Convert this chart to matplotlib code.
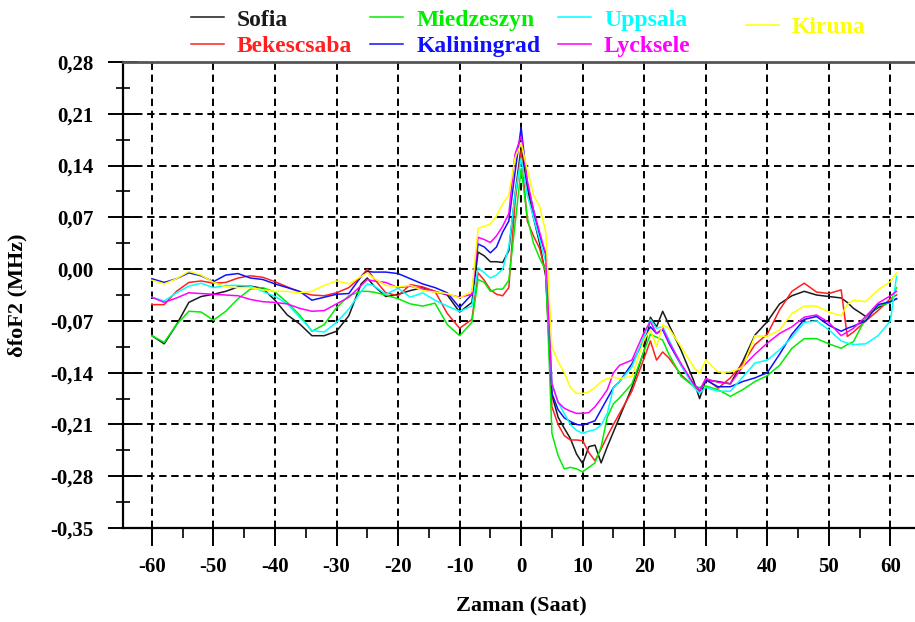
import matplotlib
matplotlib.use('Agg')
import matplotlib.pyplot as plt
from matplotlib.ticker import MultipleLocator, FuncFormatter

plt.rcParams['font.family'] = ['Liberation Serif', 'DejaVu Serif']
plt.rcParams['font.weight'] = 'bold'

# Hours relative to the event (Zaman, Saat)
hours = [-60, -58, -56, -54, -52, -50, -48, -46, -44, -42, -40, -38, -36, -34, -32, -30,
         -28, -26, -25, -24, -22, -20, -18, -16, -14, -12, -10, -8, -7, -6, -5, -4, -3, -2,
         -1, 0, 1, 2, 3, 4, 5, 6, 7, 8, 9, 10, 11, 12, 13, 14, 15, 16, 18, 20, 21, 22, 23,
         24, 26, 28, 29, 30, 32, 34, 36, 38, 40, 42, 44, 46, 48, 50, 52, 53, 54, 56, 58, 60, 61]

# dfoF2 (MHz) per station
sofia = [-0.090, -0.101, -0.075, -0.045, -0.037, -0.034, -0.030, -0.024, -0.023, -0.026,
         -0.042, -0.062, -0.074, -0.090, -0.090, -0.084, -0.063, -0.020, -0.012, -0.022,
         -0.037, -0.034, -0.029, -0.025, -0.030, -0.035, -0.058, -0.045, 0.023, 0.018,
         0.010, 0.010, 0.009, 0.025, 0.100, 0.165, 0.110, 0.070, 0.035, -0.010, -0.170,
         -0.200, -0.215, -0.229, -0.250, -0.263, -0.240, -0.238, -0.262, -0.240, -0.220,
         -0.200, -0.160, -0.110, -0.065, -0.078, -0.057, -0.075, -0.110, -0.150, -0.175,
         -0.150, -0.152, -0.155, -0.125, -0.089, -0.071, -0.047, -0.036, -0.030, -0.035,
         -0.037, -0.039, -0.045, -0.053, -0.064, -0.052, -0.044, -0.040]
bekescsaba = [-0.048, -0.048, -0.030, -0.018, -0.016, -0.019, -0.018, -0.012, -0.009, -0.011,
              -0.017, -0.024, -0.031, -0.035, -0.036, -0.032, -0.025, -0.010, 0.000, -0.012,
              -0.032, -0.036, -0.021, -0.024, -0.030, -0.060, -0.080, -0.068, -0.005, -0.015,
              -0.028, -0.034, -0.036, -0.025, 0.090, 0.160, 0.065, 0.045, 0.028, -0.005,
              -0.186, -0.210, -0.225, -0.231, -0.231, -0.232, -0.248, -0.259, -0.243, -0.226,
              -0.210, -0.195, -0.165, -0.120, -0.097, -0.123, -0.112, -0.120, -0.143, -0.158,
              -0.166, -0.148, -0.161, -0.147, -0.128, -0.102, -0.088, -0.055, -0.030, -0.019,
              -0.031, -0.033, -0.028, -0.091, -0.085, -0.070, -0.056, -0.040, -0.035]
miedzeszyn = [-0.090, -0.099, -0.075, -0.057, -0.058, -0.069, -0.057, -0.040, -0.027, -0.025,
              -0.031, -0.045, -0.062, -0.084, -0.075, -0.052, -0.036, -0.030, -0.030, -0.031,
              -0.035, -0.040, -0.047, -0.050, -0.046, -0.075, -0.090, -0.072, -0.014, -0.018,
              -0.030, -0.027, -0.027, -0.015, 0.060, 0.136, 0.070, 0.035, 0.015, -0.002,
              -0.222, -0.252, -0.270, -0.268, -0.270, -0.274, -0.268, -0.262, -0.240, -0.200,
              -0.182, -0.174, -0.155, -0.110, -0.088, -0.092, -0.096, -0.115, -0.145, -0.158,
              -0.160, -0.158, -0.163, -0.172, -0.163, -0.152, -0.144, -0.130, -0.107, -0.094,
              -0.094, -0.101, -0.107, -0.102, -0.098, -0.066, -0.050, -0.045, -0.025]
kaliningrad = [-0.013, -0.018, -0.013, -0.005, -0.009, -0.017, -0.008, -0.006, -0.012, -0.014,
               -0.020, -0.025, -0.030, -0.042, -0.038, -0.034, -0.033, -0.010, -0.003, -0.004,
               -0.004, -0.006, -0.013, -0.020, -0.025, -0.032, -0.052, -0.034, 0.034, 0.030,
               0.022, 0.030, 0.050, 0.065, 0.130, 0.192, 0.115, 0.080, 0.045, 0.020, -0.168,
               -0.190, -0.201, -0.206, -0.210, -0.211, -0.208, -0.205, -0.190, -0.175, -0.160,
               -0.152, -0.128, -0.095, -0.078, -0.087, -0.082, -0.100, -0.130, -0.155, -0.164,
               -0.150, -0.159, -0.159, -0.152, -0.147, -0.140, -0.115, -0.088, -0.068, -0.064,
               -0.076, -0.084, -0.080, -0.077, -0.070, -0.048, -0.044, -0.040]
uppsala = [-0.038, -0.043, -0.032, -0.023, -0.019, -0.025, -0.022, -0.022, -0.023, -0.030,
           -0.037, -0.047, -0.065, -0.083, -0.085, -0.072, -0.054, -0.030, -0.020, -0.022,
           -0.034, -0.026, -0.038, -0.032, -0.042, -0.050, -0.057, -0.050, 0.002, -0.005,
           -0.012, -0.008, 0.000, 0.030, 0.100, 0.150, 0.100, 0.070, 0.040, 0.010, -0.155,
           -0.180, -0.195, -0.210, -0.218, -0.222, -0.219, -0.217, -0.211, -0.195, -0.160,
           -0.152, -0.132, -0.090, -0.068, -0.080, -0.078, -0.095, -0.130, -0.159, -0.168,
           -0.160, -0.165, -0.165, -0.146, -0.127, -0.123, -0.109, -0.092, -0.072, -0.070,
           -0.082, -0.097, -0.100, -0.102, -0.101, -0.090, -0.070, -0.010]
lycksele = [-0.038, -0.045, -0.039, -0.032, -0.033, -0.034, -0.035, -0.036, -0.041, -0.044,
            -0.045, -0.047, -0.053, -0.057, -0.056, -0.047, -0.038, -0.022, -0.014, -0.016,
            -0.018, -0.025, -0.023, -0.027, -0.031, -0.034, -0.038, -0.034, 0.043, 0.040,
            0.036, 0.045, 0.058, 0.075, 0.155, 0.180, 0.120, 0.080, 0.050, 0.020, -0.155,
            -0.180, -0.188, -0.192, -0.195, -0.195, -0.194, -0.186, -0.175, -0.163, -0.140,
            -0.130, -0.123, -0.085, -0.071, -0.087, -0.080, -0.098, -0.128, -0.155, -0.164,
            -0.148, -0.153, -0.155, -0.132, -0.115, -0.100, -0.087, -0.078, -0.065, -0.062,
            -0.072, -0.090, -0.085, -0.080, -0.064, -0.046, -0.036, -0.030]
kiruna = [-0.015, -0.020, -0.013, -0.003, -0.008, -0.018, -0.024, -0.025, -0.025, -0.028,
          -0.030, -0.030, -0.032, -0.030, -0.022, -0.016, -0.020, -0.010, -0.005, -0.012,
          -0.022, -0.024, -0.022, -0.029, -0.031, -0.033, -0.039, -0.030, 0.055, 0.058,
          0.061, 0.072, 0.088, 0.100, 0.150, 0.170, 0.135, 0.100, 0.085, 0.050, -0.105,
          -0.125, -0.140, -0.160, -0.168, -0.168, -0.166, -0.160, -0.152, -0.148, -0.146,
          -0.148, -0.145, -0.095, -0.082, -0.105, -0.075, -0.080, -0.105, -0.132, -0.141,
          -0.123, -0.139, -0.139, -0.133, -0.090, -0.091, -0.082, -0.060, -0.050, -0.050,
          -0.058, -0.063, -0.048, -0.042, -0.044, -0.028, -0.017, -0.005]

stations = ['Sofia', 'Bekescsaba', 'Miedzeszyn', 'Kaliningrad', 'Uppsala', 'Lycksele', 'Kiruna']
series = [sofia, bekescsaba, miedzeszyn, kaliningrad, uppsala, lycksele, kiruna]
colors = ['#1a1a1a', '#ff2020', '#00ee00', '#1010ff', '#00ffff', '#ff00ff', '#ffff00']

x_ticks = [-60, -50, -40, -30, -20, -10, 0, 10, 20, 30, 40, 50, 60]
y_ticks = [-0.35, -0.28, -0.21, -0.14, -0.07, 0.0, 0.07, 0.14, 0.21, 0.28]

fig = plt.figure(figsize=(9.15, 6.22), dpi=100)
ax = fig.add_axes([0.1344, 0.1511, 0.8656, 0.7492])

lines = []
for name, vals, c in zip(stations, series, colors):
    ln, = ax.plot(hours, vals, color=c, lw=1.1, label=name)
    lines.append(ln)

ax.set_xlim(-64.7, 64.0)
ax.set_ylim(-0.35, 0.28)
ax.set_xticks(x_ticks)
ax.set_yticks(y_ticks)
ax.xaxis.set_minor_locator(MultipleLocator(5))
ax.yaxis.set_minor_locator(MultipleLocator(0.035))
ax.yaxis.set_major_formatter(FuncFormatter(lambda v, p: f"{round(v, 2):.2f}".replace('.', ',').replace('-0,00', '0,00')))
ax.xaxis.set_major_formatter(FuncFormatter(lambda v, p: f"{int(round(v))}"))

ax.grid(True, which='major', color='black', linestyle=(0, (3.8, 2.4)), lw=1.4)
ax.set_axisbelow(True)

ax.spines['right'].set_visible(False)
ax.spines['top'].set_color('#555555')
ax.spines['top'].set_linewidth(2.0)
for s in ['left', 'bottom']:
    ax.spines[s].set_linewidth(1.6)
    ax.spines[s].set_color('black')

ax.tick_params(axis='x', which='major', direction='out', length=13, width=1.4, pad=8, labelsize=15)
ax.tick_params(axis='x', which='minor', direction='out', length=7, width=1.2)
ax.tick_params(axis='y', which='major', direction='inout', length=22, width=1.4, pad=10, labelsize=15)
ax.tick_params(axis='y', which='minor', direction='inout', length=10, width=1.2)

fig.text(521 / 915, 1 - 606 / 622, 'Zaman (Saat)', ha='center', va='center', fontsize=16, fontweight='bold')
fig.text(17 / 915, 1 - 295 / 622, 'δfoF2 (MHz)', ha='center', va='center', rotation=90,
         fontsize=16, fontweight='bold')

leg_kw = dict(frameon=False, handlelength=1.4, handletextpad=0.55,
              columnspacing=0.75, labelspacing=0.2, borderpad=0, borderaxespad=0,
              labelcolor='linecolor', prop={'weight': 'bold', 'size': 17})
fig.legend(lines[:6], stations[:6], ncol=3, loc='upper left',
           bbox_to_anchor=(191 / 915, 1 - 9 / 622), **leg_kw)
fig.legend(lines[6:], stations[6:], loc='center left',
           bbox_to_anchor=(746 / 915, 1 - 27 / 622), **leg_kw)

fig.savefig('out.png', dpi=100)
